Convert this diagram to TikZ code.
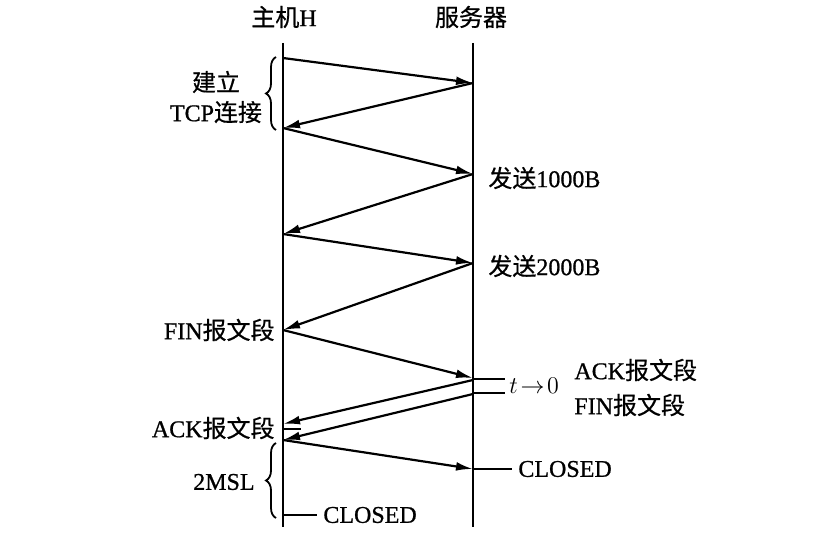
\documentclass[tikz,border=0pt]{standalone}
\usepackage{fontspec}
\setmainfont{Liberation Serif}[FakeBold=0.8]
\newfontfamily\cjk{Noto Sans CJK SC}[FakeBold=0.6]
\usetikzlibrary{arrows.meta, positioning, decorations.pathreplacing}
\tikzstyle{lifeline} = [line width=1.1pt]
\tikzstyle{msg} = [-{Latex[length=8.5pt,width=4.4pt]}, line width=1.1pt]
\tikzstyle{tick} = [line width=1.1pt]
\tikzstyle{lbl} = [font=\fontsize{12}{15}\selectfont, inner sep=1pt, align=center]
\tikzstyle{bracebar} = [decorate, decoration={brace, amplitude=5pt}, line width=0.9pt]

\begin{document}
\begin{tikzpicture}[x=0.5pt, y=-0.5pt]
    \useasboundingbox (0,0) rectangle (826,545);
    % headers
    \node (host) [lbl] at (284,17) {{\cjk 主机}H};
    \node (srv)  [lbl] at (471,17) {\cjk 服务器};

    % lifelines
    \coordinate (htop) at (283,43);  \coordinate (hbot) at (283,527);
    \coordinate (stop) at (473,43);  \coordinate (sbot) at (473,527);
    \draw[lifeline] (htop) -- (hbot);
    \draw[lifeline] (stop) -- (sbot);

    % points on host side
    \coordinate (h1) at (283,58);
    \coordinate (h2) at (283,128);
    \coordinate (h3) at (283,234);
    \coordinate (h4) at (283,330);
    \coordinate (h5) at (283,424);
    \coordinate (h6) at (283,440);
    % points on server side
    \coordinate (s1) at (473,83);
    \coordinate (s2) at (473,174);
    \coordinate (s3) at (473,263);
    \coordinate (s4) at (473,378);
    \coordinate (s5) at (473,380);
    \coordinate (s6) at (473,394);
    \coordinate (s7) at (473,469);

    % messages
    \draw[msg] (h1) -- (s1);
    \draw[msg] (s1) -- (h2);
    \draw[msg] (h2) -- (s2);
    \draw[msg] (s2) -- (h3);
    \draw[msg] (h3) -- (s3);
    \draw[msg] (s3) -- (h4);
    \draw[msg] (h4) -- (s4);
    \draw[msg] (s5) -- (h5);
    \draw[msg] (s6) -- (h6);
    \draw[msg] (h6) -- (s7);

    % short ticks
    \coordinate (tk1) at (505,379);
    \coordinate (tk2) at (505,393);
    \coordinate (tk3) at (301,429);
    \coordinate (tk4) at (512,469);
    \coordinate (tk5) at (317,515);
    \draw[tick] (473,379) -- (tk1);
    \draw[tick] (473,393) -- (tk2);
    \draw[tick] (283,429) -- (tk3);
    \draw[tick] (s7) -- (tk4);
    \draw[tick] (283,515) -- (tk5);

    % braces
    \coordinate (bra) at (276,130);  \coordinate (brb) at (276,57);
    \coordinate (brc) at (276,518);  \coordinate (brd) at (276,443);
    \draw[bracebar] (bra) -- (brb);
    \draw[bracebar] (brc) -- (brd);

    % labels
    \node (conn)  [lbl] at (216,97) {{\cjk 建立}\\TCP{\cjk 连接}};
    \node (snd1)  [lbl, anchor=west] at (486,178) {{\cjk 发送}1000B};
    \node (snd2)  [lbl, anchor=west] at (486,266) {{\cjk 发送}2000B};
    \node (finh)  [lbl, anchor=east] at (277,330) {FIN{\cjk 报文段}};
    \node (tzero) [lbl, right=1pt of tk1, yshift=-3.5pt] {$t\!\rightarrow\!0$};
    \node (acks)  [lbl, anchor=west] at (572,370) {ACK{\cjk 报文段}};
    \node (fins)  [lbl, anchor=west] at (572,405) {FIN{\cjk 报文段}};
    \node (ackh)  [lbl, anchor=east] at (277,428) {ACK{\cjk 报文段}};
    \node (msl)   [lbl, anchor=east] at (257,482) {2MSL};
    \node (clss)  [lbl, right=2pt of tk4] {CLOSED};
    \node (clsh)  [lbl, right=2pt of tk5] {CLOSED};
\end{tikzpicture}
\end{document}
